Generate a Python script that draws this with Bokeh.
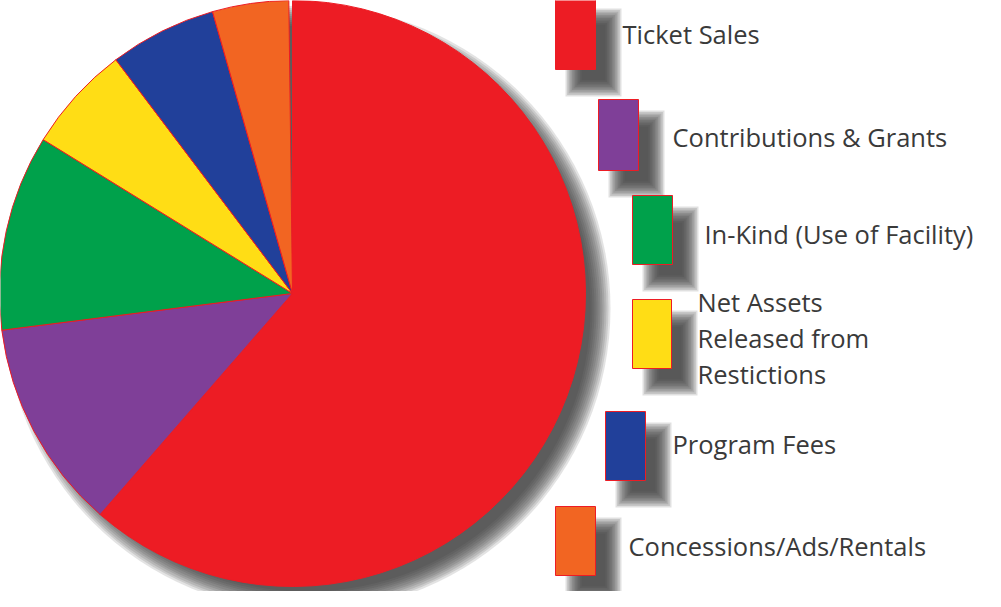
import math
import numpy as np
from bokeh.plotting import figure
from bokeh.models import ColumnDataSource
from bokeh.core.properties import value
from bokeh.embed import file_html
from bokeh.resources import INLINE

# ---- data ----
categories = ["Ticket Sales", "Contributions & Grants", "In-Kind (Use of Facility)",
              "Net Assets Released from Restictions", "Program Fees", "Concessions/Ads/Rentals"]
values = [61.4, 11.6, 10.8, 5.9, 5.9, 4.2]   # percent, clockwise from 12 o'clock
colors = ["#ED1C24", "#7F3F98", "#00A14B", "#FFDD15", "#21409A", "#F26522"]
label_lines = [["Ticket Sales"], ["Contributions & Grants"], ["In-Kind (Use of Facility)"],
               ["Net Assets", "Released from", "Restictions"], ["Program Fees"],
               ["Concessions/Ads/Rentals"]]

# ---- layout (pixel coordinates of the 1001x607 page) ----
PAGE_H = 607
def Y(py):
    return PAGE_H - py

cx, cy, R = 300, 301, 293
shadow_off = (15, 15)
legend_boxes = [(563, 5, 40, 72), (606, 107, 40, 71), (640, 203, 40, 69),
                (640, 307, 39, 69), (613, 419, 40, 69), (563, 514, 40, 69)]
label_x = [630, 680, 712, 705, 680, 636]
label_base = [41, 144, 241, 309, 451, 553]
line_step = 36
box_shadow = (18, 19)
SH = "#3c3c3c"

p = figure(width=985, height=591, x_range=(8, 993), y_range=(8, 599),
           output_backend="svg", toolbar_location=None, min_border=0,
           x_axis_type=None, y_axis_type=None, outline_line_color=None,
           background_fill_color="white", border_fill_color="white")
p.grid.visible = False

# pie drop shadow (blur faked with layered circles)
for d in np.linspace(-10, 10, 11):
    p.circle(x=[cx + shadow_off[0]], y=[Y(cy + shadow_off[1])], radius=R + d,
             fill_color=SH, fill_alpha=0.14, line_color=None)

# pie wedges
total = 100.0
cum = np.concatenate([[0], np.cumsum(values)])
starts, ends = [], []
for i in range(len(values)):
    a0 = math.pi / 2 - 2 * math.pi * cum[i] / total
    a1 = math.pi / 2 - 2 * math.pi * cum[i + 1] / total
    starts.append(a1)
    ends.append(a0)
src = ColumnDataSource(dict(x=[cx] * len(values), y=[Y(cy)] * len(values),
                            start=starts, end=ends, color=colors, cat=categories,
                            val=values))
p.wedge(x="x", y="y", radius=R, start_angle="start", end_angle="end",
        direction="anticlock", fill_color="color", line_color="#ED1C24",
        line_width=1, source=src)

# legend boxes with shadows
for (lx, ty, w, h), col in zip(legend_boxes, colors):
    sx, sy = lx + box_shadow[0], ty + box_shadow[1]
    for d in np.linspace(-8, 8, 11):
        p.quad(left=[sx - d], right=[sx + w + d], top=[Y(sy - d)], bottom=[Y(sy + h + d)],
               fill_color=SH, fill_alpha=0.16, line_color=None)
for (lx, ty, w, h), col in zip(legend_boxes, colors):
    p.quad(left=[lx], right=[lx + w], top=[Y(ty)], bottom=[Y(ty + h)],
           fill_color=col, line_color="#ED1C24", line_width=1)

# labels
tx, ty_, tt = [], [], []
for lines, x0, b0 in zip(label_lines, label_x, label_base):
    for k, line in enumerate(lines):
        tx.append(x0)
        ty_.append(Y(b0 + k * line_step))
        tt.append(line)
p.text(x=tx, y=ty_, text=tt, text_font=value("Open Sans"),
       text_font_size=value("25.5px"), text_color="#3a3a3a",
       text_baseline="alphabetic", text_align="left")

open("out.html", "w").write(file_html(p, INLINE))
